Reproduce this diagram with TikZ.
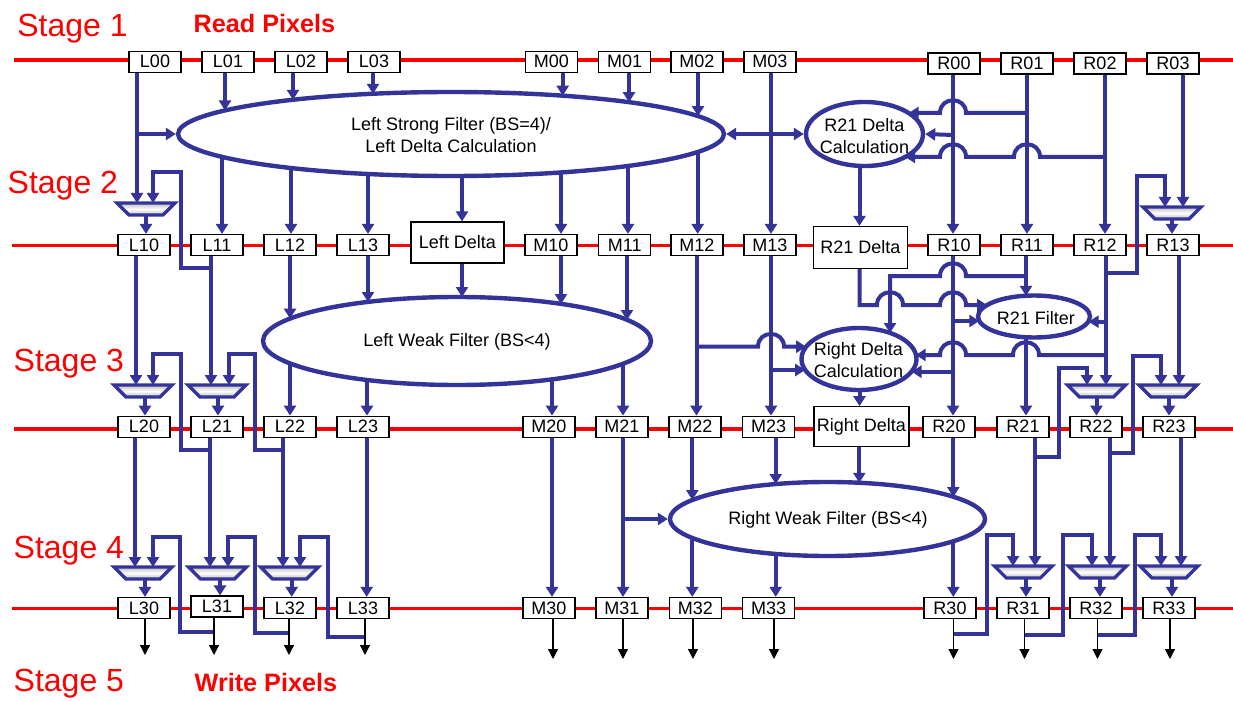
\documentclass[tikz,border=0pt]{standalone}
\usepackage{fontspec}
\setmainfont{Liberation Sans}
\usetikzlibrary{arrows.meta,shapes.geometric}
\definecolor{cblue}{RGB}{51,51,153}
\definecolor{cred}{RGB}{255,0,0}
\newcommand\hopl[2]{-- ({#1+13},#2) .. controls ({#1+13},{#2-17}) and ({#1-13},{#2-17}) .. ({#1-13},#2)}
\newcommand\hopr[2]{-- ({#1-13},#2) .. controls ({#1-13},{#2-17}) and ({#1+13},{#2-17}) .. ({#1+13},#2)}
\newcommand\muxat[3]{\coordinate (#1) at (#2,#3);
  \draw[muxshape] ({#2-29},#3) -- ({#2+29},#3) -- ({#2+17},{#3+12}) -- ({#2-17},{#3+12}) -- cycle;}
\tikzset{
  pix/.style={draw=black, line width=0.6pt, fill=white, minimum width=26pt, minimum height=10.5pt, inner sep=0pt, font=\fontsize{9}{11}\selectfont},
  ell/.style={ellipse, draw=cblue, line width=2.2pt, fill=white, inner sep=0pt},
  etext/.style={align=center, inner sep=0pt, font=\fontsize{9}{11}\selectfont},
  conn/.style={draw=cblue, line width=2pt, -{Triangle[length=5pt,width=6pt]}},
  outarr/.style={draw=black, line width=0.6pt, -{Triangle[length=5pt,width=5pt]}},
  rail/.style={draw=cred, line width=1.8pt},
  stagelbl/.style={text=cred, font=\fontsize{16}{18}\selectfont, anchor=base west, inner sep=0pt},
  rwlbl/.style={text=cred, font=\bfseries\fontsize{12.6}{14}\selectfont, anchor=base west, inner sep=0pt},
  muxshape/.style={draw=cblue, line width=1.6pt, top color=gray!55, bottom color=gray!55, middle color=white},
}
\begin{document}
\begin{tikzpicture}[x=0.5pt,y=-0.5pt]
\useasboundingbox (0,0) rectangle (1233,701);
% rails
\draw[rail] (14,60) -- (1233,60);
\draw[rail] (12,245.5) -- (1233,245.5);
\draw[rail] (14,429) -- (1233,429);
\draw[rail] (12,608.3) -- (1233,608.3);
% labels
\node[stagelbl] (s1) at (17,36.7) {Stage 1};
\node[stagelbl] (s2) at (7.3,193.3) {Stage 2};
\node[stagelbl] (s3) at (13.3,371.7) {Stage 3};
\node[stagelbl] (s4) at (13.3,558.3) {Stage 4};
\node[stagelbl] (s5) at (13.3,691.7) {Stage 5};
\node[rwlbl] (rp) at (193.3,32.3) {Read Pixels};
\node[rwlbl] (wp) at (194.3,691.7) {Write Pixels};
% row 0
\foreach \n/\x in {L00/155,L01/228,L02/301,L03/374,M00/551.5,M01/624.7,M02/697,M03/770}
  \node[pix] (\n) at (\x,61.7) {\n};
\foreach \n/\x in {R00/954,R01/1027,R02/1100,R03/1173}
  \node[pix] (\n) at (\x,63.5) {\n};
% row 1
\foreach \n/\x in {L10/144,L11/217,L12/290,L13/363,M10/551,M11/624.7,M12/697,M13/770,R10/954,R11/1027,R12/1100,R13/1173}
  \node[pix] (\n) at (\x,245) {\n};
\node[pix, minimum width=46.5pt, minimum height=20.5pt] (LD) at (457.5,242.5) {Left Delta};
\node[pix, minimum width=47pt, minimum height=21pt] (R21D) at (860.3,247.5) {R21 Delta};
% row 2
\foreach \n/\x in {L20/144,L21/217,L22/290,L23/363,M20/549,M21/622,M22/695,M23/768.6,R20/949,R21/1023,R22/1096,R23/1169}
  \node[pix] (\n) at (\x,426.7) {\n};
\node[pix, minimum width=47.5pt, minimum height=20pt] (RD) at (861.5,426.7) {Right Delta};
% row 3
\foreach \n/\x in {L30/144,L32/290,L33/363,M30/549,M31/622,M32/695.5,M33/768.7,R30/950,R31/1023,R32/1096,R33/1169}
  \node[pix] (\n) at (\x,608) {\n};
\node[pix] (L31) at (217,606.5) {L31};
% ellipses
\node[ell, minimum width=273pt, minimum height=42pt] (LSF) at (451,134) {};
\node[etext] (LSFt) at (451,135) {Left Strong Filter (BS=4)/\\Left Delta Calculation};
\node[ell, minimum width=58.5pt, minimum height=32pt] (R21DC) at (864.5,134) {};
\node[etext] (R21DCt) at (864.5,136) {R21 Delta\\Calculation};
\node[ell, minimum width=194pt, minimum height=44pt] (LWF) at (457,341) {};
\node[etext] (LWFt) at (457,342) {Left Weak Filter (BS<4)};
\node[ell, minimum width=56pt, minimum height=21pt] (R21F) at (1034,316.5) {};
\node[etext] (R21Ft) at (1036,318) {R21 Filter};
\node[ell, minimum width=57.5pt, minimum height=31pt] (RDC) at (859,359) {};
\node[etext] (RDCt) at (858.5,360) {Right Delta\\Calculation};
\node[ell, minimum width=157.5pt, minimum height=37pt] (RWF) at (827.5,519) {};
\node[etext] (RWFt) at (828,520) {Right Weak Filter (BS<4)};
% muxes
\muxat{xL10}{146}{203}
\muxat{xR13}{1172}{207}
\muxat{xL20}{143}{385}
\muxat{xL21}{217}{385}
\muxat{xR22}{1096.5}{385}
\muxat{xR23}{1168}{385}
\muxat{xL30}{143}{567}
\muxat{xL31}{217.5}{567}
\muxat{xL32}{289.5}{567}
\muxat{xR31}{1023.3}{566}
\muxat{xR32}{1097.5}{566}
\muxat{xR33}{1169}{566}
% ---- stage 1 -> 2
\draw[conn] (137,0 |- L00.south) -- (137,0 |- xL10);
\draw[conn] (137,134) -- (LSF.west);
\draw[conn] (225,0 |- L01.south) -- (225,110.4);
\draw[conn] (293,0 |- L02.south) -- (293,99.8);
\draw[conn] (373,0 |- L03.south) -- (373,93.8);
\draw[conn] (222,156.9) -- (222,0 |- L11.north);
\draw[conn] (291,168) -- (291,0 |- L12.north);
\draw[conn] (368,174) -- (368,0 |- L13.north);
\draw[conn] (462,176) -- (462,0 |- LD.north);
\draw[conn] (561,172.4) -- (561,0 |- M10.north);
\draw[conn] (628,166) -- (628,0 |- M11.north);
\draw[conn] (697.7,152) -- (697.7,0 |- M12.north);
\draw[conn] (562.7,0 |- M00.south) -- (562.7,95.7);
\draw[conn] (629,0 |- M01.south) -- (629,102.2);
\draw[conn] (698,0 |- M02.south) -- (698,116.1);
\draw[conn] (771,0 |- M03.south) -- (771,0 |- M13.north);
\draw[conn, {Triangle[length=5pt,width=6pt]}-{Triangle[length=5pt,width=6pt]}] (LSF.east) -- (R21DC.west);
\draw[conn] (146,215) -- (146,0 |- L10.north);
\draw[conn] (211,0 |- L11.south) -- (211,0 |- xL21);
\draw[conn] (211,268) -- (181,268) -- (181,172) -- (153,172) -- (153,0 |- xL10);
\draw[conn] (953,0 |- R00.south) -- (953,0 |- R10.north);
\draw[conn] (1027,0 |- R01.south) -- (1027,0 |- R11.north);
\draw[conn] (1105,0 |- R02.south) -- (1105,0 |- R12.north);
\draw[conn] (1183,0 |- R03.south) -- (1183,0 |- xR13);
\draw[conn] (1027,113) \hopl{953}{113} -- (908.6,113);
\draw[conn] (953,135) -- (R21DC.east);
\draw[conn] (1105,157) \hopl{1027}{157} \hopl{953}{157} -- (905.2,157);
\draw[conn] (859.5,165.9) -- (859.5,0 |- R21D.north);
\draw[conn] (1172,219) -- (1172,0 |- R13.north);
\draw[conn] (1106,273) -- (1137,273) -- (1137,176) -- (1165,176) -- (1165,0 |- xR13);
% ---- stage 2 -> 3
\draw[conn] (136,0 |- L10.south) -- (136,0 |- xL20);
\draw[conn] (145,397) -- (145,0 |- L20.north);
\draw[conn] (210,450) -- (181,450) -- (181,354) -- (153,354) -- (153,0 |- xL20);
\draw[conn] (218,397) -- (218,0 |- L21.north);
\draw[conn] (283,450) -- (255,450) -- (255,354) -- (229,354) -- (229,0 |- xL21);
\draw[conn] (290,0 |- L12.south) -- (290,318.6);
\draw[conn] (368,0 |- L13.south) -- (368,302);
\draw[conn] (290,363.4) -- (290,0 |- L22.north);
\draw[conn] (367,380) -- (367,0 |- L23.north);
\draw[conn] (462,0 |- LD.south) -- (462,297);
\draw[conn] (561,0 |- M10.south) -- (561,304);
\draw[conn] (627,0 |- M11.south) -- (627,320);
\draw[conn] (552,379) -- (552,0 |- M20.north);
\draw[conn] (623,364) -- (623,0 |- M21.north);
\draw[conn] (696.5,0 |- M12.south) -- (696.5,0 |- M22.north);
\draw[conn] (696.5,346.7) \hopr{771}{346.7} -- (806.2,346.7);
\draw[conn] (771,0 |- M13.south) -- (771,0 |- M23.north);
\draw[conn] (771,370) -- (805.2,370);
\draw[conn] (859.5,0 |- R21D.south) -- (859.5,305) \hopr{890}{305} \hopr{953}{305} -- (987,305);
\draw[conn] (953,0 |- R10.south) -- (953,0 |- R20.north);
\draw[conn] (953,321) -- (979.3,321);
\draw[conn] (953,371.7) -- (911.5,371.7);
\draw[conn] (1026,0 |- R11.south) -- (1026,295.8);
\draw[conn] (1026,276) \hopl{953}{276} -- (890,276) -- (890,333);
\draw[conn] (1026,337) -- (1026,0 |- R21.north);
\draw[conn] (1106,0 |- R12.south) -- (1106,0 |- xR22);
\draw[conn] (1106,321.7) -- (1088.6,321.7);
\draw[conn] (1106,355) \hopl{1026}{355} \hopl{953}{355} -- (915.7,355);
\draw[conn] (1096.5,397) -- (1096.5,0 |- R22.north);
\draw[conn] (1035,457) -- (1059,457) -- (1059,368) -- (1087,368) -- (1087,0 |- xR22);
\draw[conn] (1169,397) -- (1169,0 |- R23.north);
\draw[conn] (1110,453) -- (1133,453) -- (1133,356) -- (1161,356) -- (1161,0 |- xR23);
\draw[conn] (1179,0 |- R13.south) -- (1179,0 |- xR23);
\draw[conn] (859.5,390) -- (859.5,0 |- RD.north);
% ---- stage 3 -> 4
\draw[conn] (135,0 |- L20.south) -- (135,0 |- xL30);
\draw[conn] (145,579) -- (145,0 |- L30.north);
\draw[conn] (214,632) -- (180,632) -- (180,537) -- (153,537) -- (153,0 |- xL30);
\draw[conn] (210,0 |- L21.south) -- (210,0 |- xL31);
\draw[conn] (220,579) -- (220,0 |- L31.north);
\draw[conn] (289,633) -- (255,633) -- (255,537) -- (228,537) -- (228,0 |- xL31);
\draw[conn] (283,0 |- L22.south) -- (283,0 |- xL32);
\draw[conn] (291.7,579) -- (291.7,0 |- L32.north);
\draw[conn] (365,637) -- (328,637) -- (328,537) -- (300,537) -- (300,0 |- xL32);
\draw[conn] (366.7,0 |- L23.south) -- (366.7,0 |- L33.north);
\draw[conn] (552,0 |- M20.south) -- (552,0 |- M30.north);
\draw[conn] (623,0 |- M21.south) -- (623,0 |- M31.north);
\draw[conn] (623,519) -- (RWF.west);
\draw[conn] (692.3,0 |- M22.south) -- (692.3,500);
\draw[conn] (775.7,0 |- M23.south) -- (775.7,484);
\draw[conn] (859.3,0 |- RD.south) -- (859.3,482.8);
\draw[conn] (953.3,0 |- R20.south) -- (953.3,497);
\draw[conn] (692.3,538) -- (692.3,0 |- M32.north);
\draw[conn] (775.7,554) -- (775.7,0 |- M33.north);
\draw[conn] (953.3,541) -- (953.3,0 |- R30.north);
\draw[conn] (1035,0 |- R21.south) -- (1035,0 |- xR31);
\draw[conn] (1026,578) -- (1026,0 |- R31.north);
\draw[conn] (953.5,634) -- (987,634) -- (987,535) -- (1013,535) -- (1013,0 |- xR31);
\draw[conn] (1110,0 |- R22.south) -- (1110,0 |- xR32);
\draw[conn] (1100,578) -- (1100,0 |- R32.north);
\draw[conn] (1024.5,635) -- (1063,635) -- (1063,535) -- (1092,535) -- (1092,0 |- xR32);
\draw[conn] (1181,0 |- R23.south) -- (1181,0 |- xR33);
\draw[conn] (1172,578) -- (1172,0 |- R33.north);
\draw[conn] (1097.5,635) -- (1135,635) -- (1135,535) -- (1161,535) -- (1161,0 |- xR33);
% outputs
\foreach \n/\x in {L30/145,L31/214,L32/289,L33/365}
  \draw[outarr] (\x,0 |- \n.south) -- (\x,655);
\foreach \n/\x in {M30/553,M31/623,M32/693,M33/774,R30/953.5,R31/1024.5,R32/1097.5,R33/1170}
  \draw[outarr] (\x,0 |- \n.south) -- (\x,659);
\end{tikzpicture}
\end{document}
